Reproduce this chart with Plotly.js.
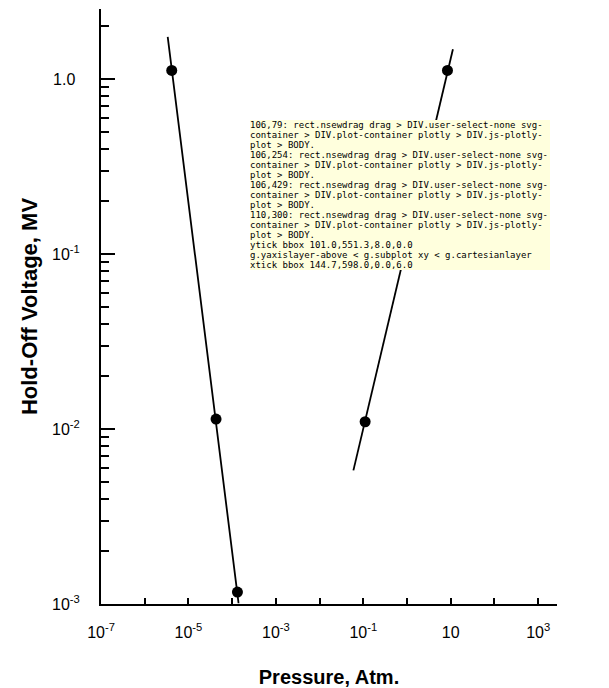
<!DOCTYPE html>
<html><head><meta charset="utf-8">
<script src="https://cdn.plot.ly/plotly-3.0.1.min.js"></script>
<style>html,body{margin:0;padding:0;background:#fff}</style>
</head><body><div id="chart" style="width:609px;height:688px"></div>
<pre id="dbg" style="position:absolute;left:250px;top:120px;font-size:9px;margin:0;max-width:300px;white-space:pre-wrap;background:#ffd"></pre>
<script>
const h2Pressure = [4.15e-6, 4.28e-5, 1.32e-4];
const h2Voltage = [1.12, 0.0114, 0.00117];
const h2LinePressure = [3.36e-6, 1.40e-4];
const h2LineVoltage = [1.74, 0.00101];
const n2Pressure = [0.110, 8.4];
const n2Voltage = [0.0110, 1.12];
const n2LinePressure = [0.0593, 11.2];
const n2LineVoltage = [0.0058, 1.48];

const xTickVals = [1e-7, 1e-6, 1e-5, 1e-4, 1e-3, 1e-2, 1e-1, 1, 10, 100, 1000];
const xTickText = ['10<sup>-7</sup>', '', '10<sup>-5</sup>', '', '10<sup>-3</sup>', '', '10<sup>-1</sup>', '', '10', '', '10<sup>3</sup>'];
const yTickVals = [1e-3, 1e-2, 1e-1, 1];
const yTickText = ['10<sup>-3</sup>', '10<sup>-2</sup>', '10<sup>-1</sup>', '1.0\u00a0'];
const yMinor = [];
[-3, -2, -1, 0].forEach(d => [2,3,4,5,6,7,8,9].forEach(k => yMinor.push(k * Math.pow(10, d))));

const FONT = 'Liberation Sans, Arial, Helvetica, sans-serif';
const BOLD = {family: FONT, size: 19, color: '#000'};
const lineStyle = {color: '#000', width: 1.8};
const markerStyle = {color: '#000', size: 11};
const traces = [
  {x: h2LinePressure, y: h2LineVoltage, mode: 'lines', line: lineStyle},
  {x: h2Pressure, y: h2Voltage, mode: 'markers', marker: markerStyle},
  {x: n2LinePressure, y: n2LineVoltage, mode: 'lines', line: lineStyle},
  {x: n2Pressure, y: n2Voltage, mode: 'markers', marker: markerStyle}
];
const layout = {
  width: 609, height: 688, margin: {l: 101, r: 52, t: 9, b: 84, pad: 0}, showlegend: false,
  xaxis: {type: 'log', range: [-7, 3.43], tickmode: 'array', tickvals: xTickVals, ticktext: xTickText,
    ticks: 'inside', ticklen: 6, tickwidth: 1.5, tickcolor: '#000', showline: true, linecolor: '#000', linewidth: 2, showgrid: false,
    tickfont: {family: FONT, size: 16, color: '#000'}, ticklabelstandoff: 13,
    title: {text: '<b>Pressure, Atm.</b>', font: {family: FONT, size: 20, color: '#000'}, standoff: 30}},
  yaxis: {type: 'log', range: [-3, 0.40], tickmode: 'array', tickvals: yTickVals, ticktext: yTickText,
    ticks: 'inside', ticklen: 14, tickwidth: 2, tickcolor: '#000',
    minor: {tickmode: 'array', tickvals: yMinor, ticks: 'inside', ticklen: 8, tickwidth: 2, tickcolor: '#000'},
    showline: true, linecolor: '#000', linewidth: 2, showgrid: false,
    tickfont: {family: FONT, size: 16, color: '#000'}, ticklabelstandoff: 16,
    title: {text: '<b>Hold-Off Voltage, MV</b>', font: {family: FONT, size: 22, color: '#000'}, standoff: 8}}
};
Plotly.newPlot('chart', traces, layout, {displayModeBar: false}).then(gd => {
  const out = [];
  [[106, 79], [106, 254], [106, 429], [110, 300]].forEach(([x, y]) => {
    const els = document.elementsFromPoint(x, y).slice(0, 5).map(e => e.tagName + '.' + (e.getAttribute('class') || '') + (e.getAttribute('clip-path') ? '[clip]' : ''));
    out.push(x + ',' + y + ': ' + els.join(' > '));
  });
  const t = document.querySelector('path.ytick');
  if (t) {
    const b = t.getBoundingClientRect();
    out.push('ytick bbox ' + [b.x, b.y, b.width, b.height].map(v => v.toFixed(1)).join(','));
    let p = t.parentNode, chain = [];
    while (p && p.tagName !== 'svg') { chain.push(p.tagName + '.' + (p.getAttribute('class') || '') + (p.getAttribute('clip-path') ? '[clip ' + p.getAttribute('clip-path') + ']' : '') + (p.getAttribute('transform') ? '[tr ' + p.getAttribute('transform') + ']' : '') + (p.getAttribute('style') ? '[st ' + p.getAttribute('style') + ']' : '')); p = p.parentNode; }
    out.push(chain.join(' < '));
  }
  const xt = document.querySelector('path.xtick');
  if (xt) { const b = xt.getBoundingClientRect(); out.push('xtick bbox ' + [b.x, b.y, b.width, b.height].map(v => v.toFixed(1)).join(',')); }
  document.getElementById('dbg').textContent = out.join('\n');
});
</script>
</body></html>
